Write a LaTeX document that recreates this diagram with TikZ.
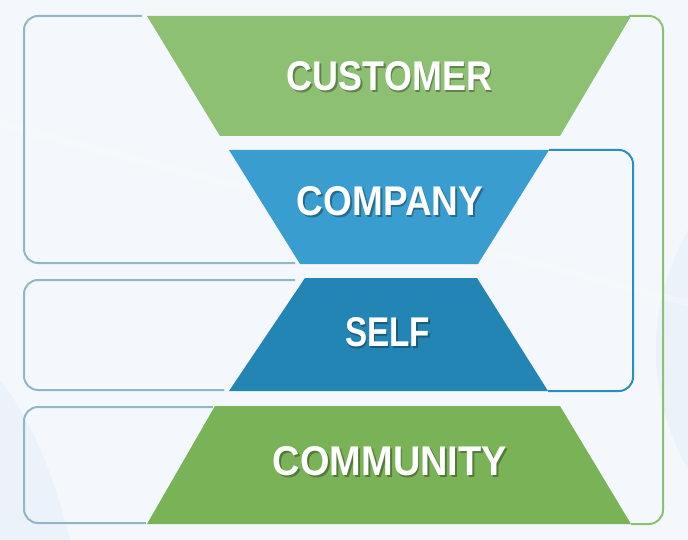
\documentclass[tikz,border=0pt]{standalone}
\usepackage{fontspec}
\usepackage{graphicx}
\setmainfont{Liberation Sans}
\definecolor{bgc}{HTML}{F4F8FC}
\definecolor{swoosh}{HTML}{E8F0F8}
\definecolor{gA}{HTML}{8DC073}
\definecolor{gB}{HTML}{7AB357}
\definecolor{bA}{HTML}{399ECF}
\definecolor{bB}{HTML}{2385B4}
\definecolor{frG}{HTML}{8CC26F}
\definecolor{frB}{HTML}{2C8DC3}
\definecolor{frT}{HTML}{8FB8C4}
% width, text, shadow colour
\newcommand{\lbl}[3]{%
  \makebox[0pt][l]{\hspace{1.8pt}\raisebox{-2.2pt}{\color{#3}\resizebox{#1}{29pt}{\bfseries #2}}}%
  \resizebox{#1}{29pt}{\bfseries #2}}
\tikzset{
  frame/.style={line width=2pt, rounded corners=14pt},
  lab/.style={text=white, inner sep=0pt, anchor=center},
}
\begin{document}
\begin{tikzpicture}[x=1pt,y=-1pt]
\useasboundingbox (0,0) rectangle (688,540);
\fill[bgc] (0,0) rectangle (688,540);
% subtle background swooshes
\fill[swoosh, opacity=0.7] (0,380) .. controls (40,430) and (60,500) .. (70,540) -- (0,540) -- cycle;
\fill[swoosh, opacity=0.7] (688,230) .. controls (650,300) and (640,380) .. (688,470) -- cycle;
\fill[white, opacity=0.25] (0,120) -- (688,300) -- (688,306) -- (0,128) -- cycle;
% frames
\draw[frame, frG] (629,16) -- (663,16) -- (663,524) -- (631,524);
\draw[frame, frT] (142,16) -- (24,16) -- (24,263) -- (295,263);
\draw[frame, frB] (549,150) -- (633,150) -- (633,391) -- (548,391);
\draw[frame, frT] (295,280) -- (24,280) -- (24,390) -- (224,390);
\draw[frame, frT] (213,407) -- (24,407) -- (24,523) -- (146,523);
% trapezoids
\fill[gA] (147,16) -- (631,16) -- (560,136) -- (220,136) -- cycle;
\fill[bA] (229,150) -- (549,150) -- (478,264) -- (300,264) -- cycle;
\fill[bB] (305,278) -- (477,278) -- (548,391) -- (229,391) -- cycle;
\fill[gB] (215,406) -- (560,406) -- (631,524) -- (147,524) -- cycle;
% labels
\node[lab] (customer) at (389.5,77.5) {\lbl{205pt}{CUSTOMER}{gA!68!black}};
\node[lab] (company) at (390,202.5) {\lbl{186pt}{COMPANY}{bA!68!black}};
\node[lab] (self) at (387.5,333.5) {\lbl{85pt}{SELF}{bB!68!black}};
\node[lab] (community) at (390,462.5) {\lbl{234pt}{COMMUNITY}{gB!68!black}};
\end{tikzpicture}
\end{document}
